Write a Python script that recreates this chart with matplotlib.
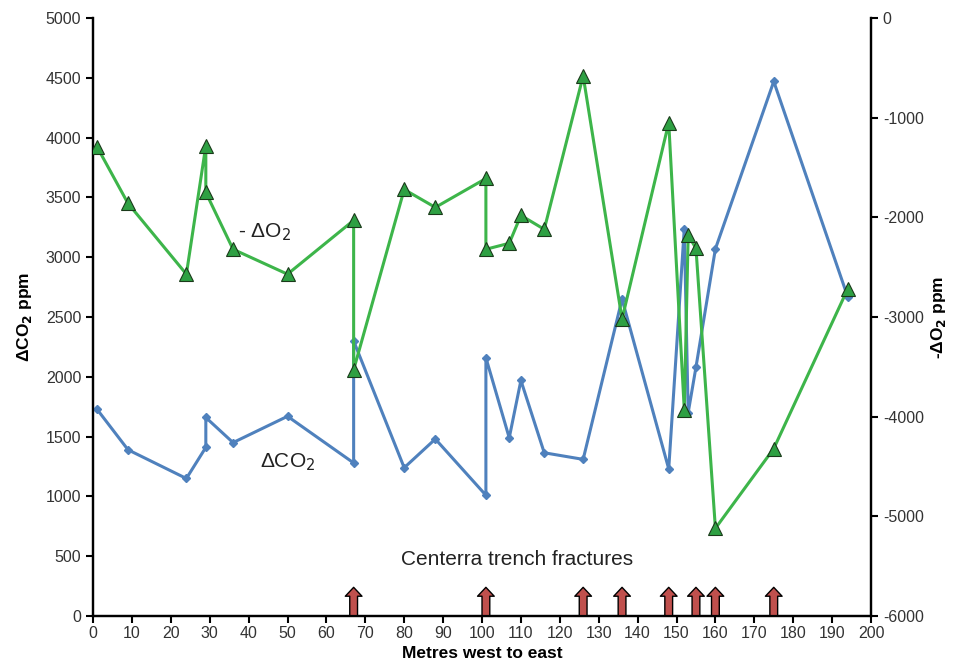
import matplotlib
matplotlib.use('Agg')
import matplotlib.pyplot as plt

plt.rcParams['font.family'] = ['Liberation Sans', 'DejaVu Sans']
plt.rcParams['axes.unicode_minus'] = False

# delta CO2 (left axis, ppm)
co2_x = [1, 9, 24, 29, 29, 36, 50, 67, 67, 80, 88, 101, 101, 107, 110, 116, 126,
         136, 148, 152, 153, 155, 160, 175, 194]
co2_y = [1730, 1390, 1150, 1410, 1660, 1450, 1670, 1280, 2300, 1240, 1480, 1010,
         2160, 1490, 1970, 1365, 1310, 2650, 1230, 3240, 1700, 2080, 3070, 4470, 2670]

# -delta O2 (right axis, ppm)
o2_x = [1, 9, 24, 29, 29, 36, 50, 67, 67, 80, 88, 101, 101, 107, 110, 116, 126,
        136, 148, 152, 153, 155, 160, 175, 194]
o2_y = [-1290, -1860, -2570, -1280, -1750, -2320, -2570, -2030, -3530, -1720, -1900,
        -1610, -2320, -2260, -1980, -2120, -580, -3020, -1050, -3930, -2180, -2310,
        -5120, -4320, -2720]

# fracture locations
fractures = [67, 101, 126, 136, 148, 155, 160, 175]

fig = plt.figure(figsize=(9.54, 6.68), dpi=100)
ax = fig.add_axes([0.0975, 0.0778, 0.8155, 0.8952])
ax2 = ax.twinx()

ax.plot(co2_x, co2_y, color='#4f81bd', lw=2.2, marker='D', ms=4,
        mfc='#4f81bd', mec='#4f81bd', zorder=3)
ax2.plot(o2_x, o2_y, color='#3db54a', lw=2.2, marker='^', ms=10,
         mfc='#2ea043', mec='#1a3a1a', mew=0.8, zorder=3)

for f in fractures:
    ax.annotate('', xy=(f, 240), xytext=(f, 0),
                arrowprops=dict(arrowstyle='simple,head_length=0.4,head_width=0.75,tail_width=0.35',
                                fc='#c0504d', ec='black', lw=1.0, mutation_scale=16,
                                shrinkA=0, shrinkB=0))

ax.text(109, 470, 'Centerra trench fractures', fontsize=15, ha='center', va='center',
        color='#222222')
ax.text(44, 3210, '- ΔO$_2$', fontsize=15, ha='center', va='center', color='#222222')
ax.text(50, 1290, 'ΔCO$_2$', fontsize=15, ha='center', va='center', color='#222222')

ax.set_xlim(0, 200)
ax.set_ylim(0, 5000)
ax2.set_ylim(-6000, 0)
ax.set_xticks(range(0, 201, 10))
ax.set_yticks(range(0, 5001, 500))
ax2.set_yticks(range(-6000, 1, 1000))

for a in (ax, ax2):
    a.tick_params(direction='out', length=5, width=1.5, labelsize=11.5, colors='black')
    a.spines['top'].set_visible(False)
    for s in ('left', 'right', 'bottom'):
        a.spines[s].set_linewidth(1.6)
ax.tick_params(axis='y', labelcolor='#333333')
ax2.tick_params(axis='y', labelcolor='#333333')
ax.tick_params(axis='x', labelcolor='#333333', pad=2)

ax.set_xlabel('Metres west to east', fontsize=12.5, fontweight='bold', labelpad=4)
ax.set_ylabel('ΔCO$_\\mathbf{2}$ ppm', fontsize=12.5, fontweight='bold', labelpad=8)
ax2.set_ylabel('-ΔO$_\\mathbf{2}$ ppm', fontsize=12.5, fontweight='bold')
ax2.yaxis.set_label_coords(1.074, 0.5)

fig.savefig('out.png', dpi=100)
